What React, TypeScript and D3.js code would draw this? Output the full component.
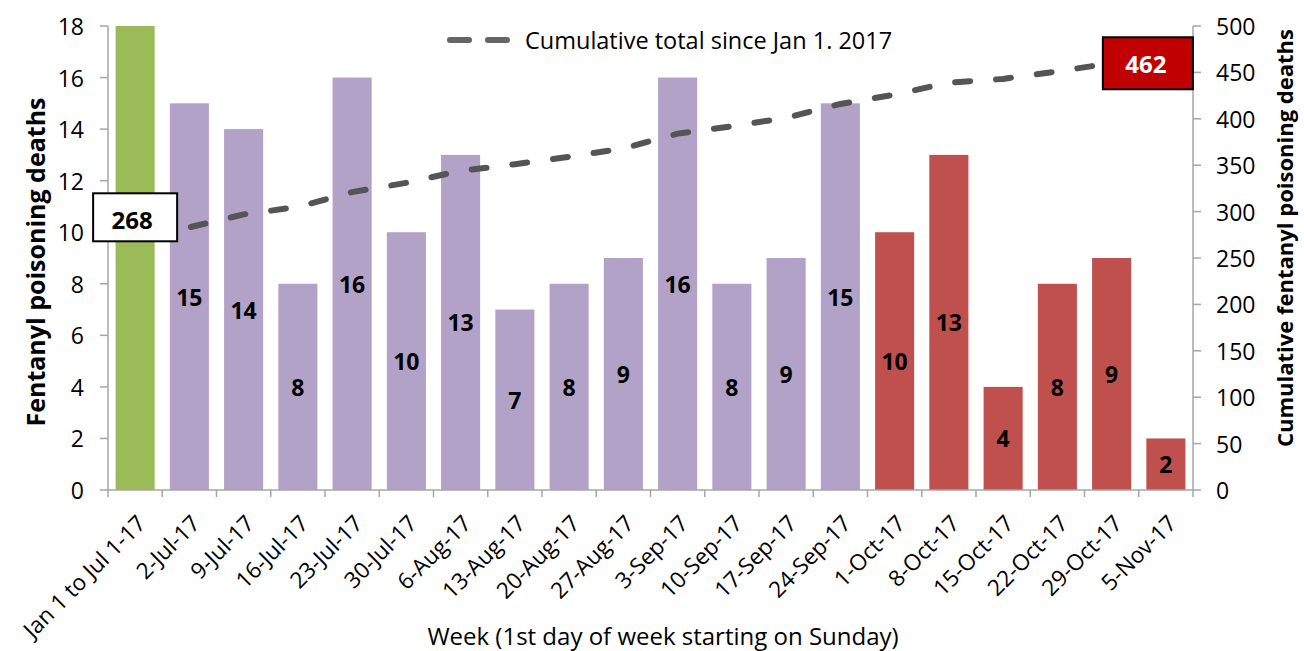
import React from "react";
import * as d3 from "d3";

// chart data
const weeks = [
  "Jan 1 to Jul 1-17", "2-Jul-17", "9-Jul-17", "16-Jul-17", "23-Jul-17", "30-Jul-17",
  "6-Aug-17", "13-Aug-17", "20-Aug-17", "27-Aug-17", "3-Sep-17", "10-Sep-17",
  "17-Sep-17", "24-Sep-17", "1-Oct-17", "8-Oct-17", "15-Oct-17", "22-Oct-17",
  "29-Oct-17", "5-Nov-17",
];
const deaths = [18, 15, 14, 8, 16, 10, 13, 7, 8, 9, 16, 8, 9, 15, 10, 13, 4, 8, 9, 2];
const cumulative = [268, 283, 297, 305, 321, 331, 344, 351, 359, 368, 384, 392, 401, 416, 426, 439, 443, 451, 460, 462];
const period = [
  "ytd", "q3", "q3", "q3", "q3", "q3", "q3", "q3", "q3", "q3", "q3", "q3", "q3", "q3",
  "q4", "q4", "q4", "q4", "q4", "q4",
];
const leftTicks = [0, 2, 4, 6, 8, 10, 12, 14, 16, 18];
const rightTicks = [0, 50, 100, 150, 200, 250, 300, 350, 400, 450, 500];

const W = 1304;
const H = 651;
const FONT = "'Open Sans', sans-serif";

const colorOf: Record<string, string> = { ytd: "#9BBB59", q3: "#B3A2C7", q4: "#C0504D" };

export default function App() {
  const x = d3.scaleBand<string>().domain(weeks).range([108, 1193]).paddingInner(0.28).paddingOuter(0.14);
  const yL = d3.scaleLinear().domain([0, 18]).range([490, 26]);
  const yR = d3.scaleLinear().domain([0, 500]).range([490, 26]);
  const step = x.step();
  const bw = x.bandwidth();
  const cx = (c: string) => (x(c) as number) + bw / 2;

  const line = d3
    .line<number>()
    .x((_, i) => cx(weeks[i]))
    .y((d) => yR(d));

  const first = { x: cx(weeks[0]), y: yR(cumulative[0]) };
  const last = { x: cx(weeks[weeks.length - 1]), y: yR(cumulative[cumulative.length - 1]) };
  const boundaries = weeks.map((c) => (x(c) as number) - step * 0.14).concat([1193]);

  return (
    <svg width={W} height={H} style={{ position: "absolute", left: 0, top: 0, background: "#fff" }} fontFamily={FONT}>
      {/* bars */}
      {weeks.map((c, i) => (
        <rect key={c} x={x(c)} y={yL(deaths[i])} width={bw} height={490 - yL(deaths[i])} fill={colorOf[period[i]]} />
      ))}
      {weeks.map((c, i) =>
        i === 0 ? null : (
          <text key={c} x={cx(c)} y={(yL(deaths[i]) + 490) / 2} textAnchor="middle" dominantBaseline="central" fontSize={23} fontWeight="bold" fill="#000">
            {deaths[i]}
          </text>
        )
      )}

      {/* axes */}
      <g stroke="#A6A6A6" strokeWidth={1.5}>
        <line x1={108} x2={108} y1={26} y2={490} />
        <line x1={1193} x2={1193} y1={26} y2={490} />
        <line x1={108} x2={1193} y1={490} y2={490} />
        {leftTicks.map((t) => (
          <line key={"l" + t} x1={100} x2={108} y1={yL(t)} y2={yL(t)} />
        ))}
        {rightTicks.map((t) => (
          <line key={"r" + t} x1={1193} x2={1201} y1={yR(t)} y2={yR(t)} />
        ))}
        {boundaries.map((b, i) => (
          <line key={"x" + i} x1={b} x2={b} y1={490} y2={497} />
        ))}
      </g>
      {leftTicks.map((t) => (
        <text key={"lt" + t} x={84} y={yL(t)} textAnchor="end" dominantBaseline="central" fontSize={23} fill="#000">
          {t}
        </text>
      ))}
      {rightTicks.map((t) => (
        <text key={"rt" + t} x={1216} y={yR(t)} textAnchor="start" dominantBaseline="central" fontSize={23} fill="#000">
          {t}
        </text>
      ))}
      {weeks.map((c) => (
        <text key={"xl" + c} transform={`translate(${cx(c) + 12},${525}) rotate(-45)`} textAnchor="end" fontSize={22.5} fill="#000">
          {c}
        </text>
      ))}

      {/* titles */}
      <text transform="translate(45,262) rotate(-90)" textAnchor="middle" fontSize={25} fontWeight="bold">
        Fentanyl poisoning deaths
      </text>
      <text transform="translate(1293,238) rotate(-90)" textAnchor="middle" fontSize={22} fontWeight="bold">
        Cumulative fentanyl poisoning deaths
      </text>
      <text x={663} y={645} textAnchor="middle" fontSize={24}>
        Week (1st day of week starting on Sunday)
      </text>

      {/* cumulative line */}
      <path d={line(cumulative) || ""} fill="none" stroke="#555555" strokeWidth={6} strokeDasharray="15 26" strokeDashoffset={24.5} strokeLinecap="round" />

      {/* legend */}
      <line x1={450} x2={510} y1={40} y2={40} stroke="#666" strokeWidth={6} strokeDasharray="19 19" strokeLinecap="round" />
      <text x={525} y={40} dominantBaseline="central" fontSize={23.5}>
        Cumulative total since Jan 1. 2017
      </text>

      {/* end labels */}
      <rect x={first.x - 42} y={first.y - 48} width={84} height={48} fill="#fff" stroke="#000" strokeWidth={2} />
      <text x={first.x - 3} y={first.y - 22} textAnchor="middle" dominantBaseline="central" fontSize={24} fontWeight="bold">
        {cumulative[0]}
      </text>
      <rect x={last.x - 63} y={last.y - 24} width={90} height={52} fill="#C00000" stroke="#000" strokeWidth={2} />
      <text x={last.x - 20} y={last.y + 2} textAnchor="middle" dominantBaseline="central" fontSize={24} fontWeight="bold" fill="#fff">
        {cumulative[cumulative.length - 1]}
      </text>
    </svg>
  );
}
